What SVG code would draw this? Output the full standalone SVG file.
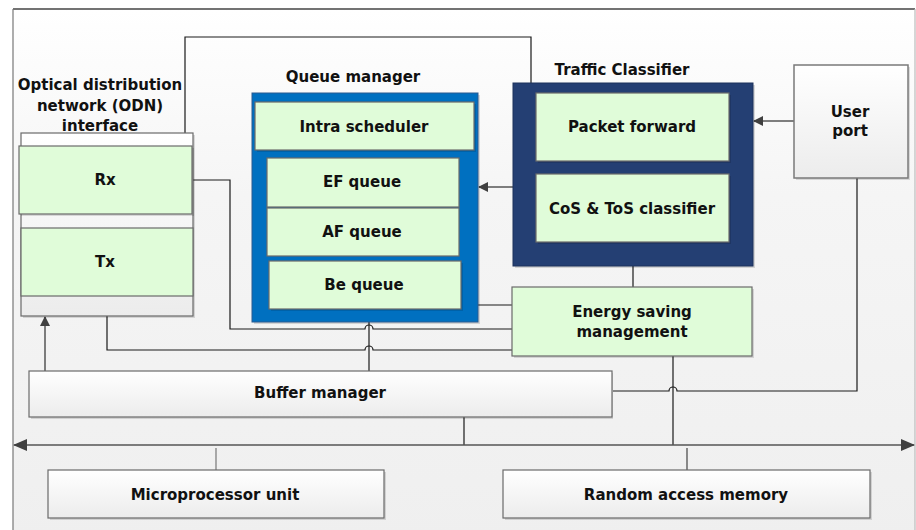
<svg xmlns="http://www.w3.org/2000/svg" width="916" height="530" viewBox="0 0 916 530">
<defs>
<linearGradient id="bg" x1="0" y1="0" x2="0" y2="1"><stop offset="0" stop-color="#ffffff"/><stop offset="0.35" stop-color="#f5f5f5"/><stop offset="1" stop-color="#efefef"/></linearGradient>
<linearGradient id="wg" x1="0" y1="0" x2="0" y2="1"><stop offset="0" stop-color="#ffffff"/><stop offset="1" stop-color="#ececec"/></linearGradient>
<marker id="ah" viewBox="0 0 10 10" refX="9" refY="5" markerWidth="10" markerHeight="10" markerUnits="userSpaceOnUse" orient="auto"><path d="M0,0 L10,5 L0,10 z" fill="#404040"/></marker>
<marker id="ahb" viewBox="0 0 14 12" refX="13" refY="6" markerWidth="14" markerHeight="12" markerUnits="userSpaceOnUse" orient="auto-start-reverse"><path d="M0,0 L14,6 L0,12 z" fill="#404040"/></marker>
</defs>
<style>
.t{font-family:"DejaVu Sans",Verdana,sans-serif;font-weight:bold;font-size:15px;fill:#111;text-anchor:middle}
.g{fill:#e0fcd9;stroke:#6a6a6a;stroke-width:1.2}
.w{fill:url(#wg);stroke:#6a6a6a;stroke-width:1.2}
.sh{fill:#000;opacity:0.13}
.c{fill:none;stroke:#1a1a1a;stroke-width:1.2}
.a{fill:none;stroke:#555;stroke-width:1.5}
</style>
<rect x="0" y="0" width="916" height="530" fill="#ffffff"/>
<rect x="13" y="9" width="902" height="530" fill="url(#bg)"/>
<line x1="13" y1="9" x2="915" y2="9" stroke="#444" stroke-width="1.5"/>
<line x1="13" y1="9" x2="13" y2="530" stroke="#777" stroke-width="1.2"/>
<line x1="915" y1="9" x2="915" y2="530" stroke="#bbb" stroke-width="1.2"/>

<g id="connectors">
<path class="c" d="M185,133 V37 H531 V83"/>
<path class="c" d="M192,180 H230 V329 H365 a4,4 0 0 1 8,0 H513"/>
<path class="c" d="M107,296 V350 H365 a4,4 0 0 1 8,0 H513"/>
<path class="c" d="M478,305 H513"/>
<path class="c" d="M369,322 V371"/>
<path class="c" d="M633,266 V287"/>
<path class="c" d="M673,356 V445"/>
<path class="c" d="M613,391 H669 a4,4 0 0 1 8,0 H857 V178"/>
<path class="c" d="M464,417 V445"/>
<path class="a" d="M513,187 H479" marker-end="url(#ah)"/>
<path class="a" d="M794,121 H754" marker-end="url(#ah)"/>
<path class="a" d="M45,371 V317" marker-end="url(#ah)"/>
<path class="a" d="M14,445 H914" stroke="#444" stroke-width="1.3" marker-start="url(#ahb)" marker-end="url(#ahb)"/>
<path d="M216,448 V470" stroke="#777" stroke-width="1.2"/>
<path d="M687,448 V470" stroke="#444" stroke-width="1.2"/>
</g>

<g id="odn">
<text class="t" x="100" y="90">Optical distribution</text>
<text class="t" x="100" y="111">network (ODN)</text>
<text class="t" x="100" y="131">interface</text>
<rect class="sh" x="23" y="135" width="172" height="183"/>
<rect x="21" y="133" width="172" height="183" fill="url(#wg)" stroke="#6a6a6a" stroke-width="1.2"/>
</g>
<g id="rx">
<rect class="sh" x="21" y="148" width="173" height="68"/>
<rect class="g" x="19" y="146" width="173" height="68"/>
<text class="t" x="105" y="185">Rx</text>
</g>
<g id="tx">
<rect class="g" x="21" y="228" width="172" height="68"/>
<text class="t" x="105" y="267">Tx</text>
</g>

<g id="queue-manager">
<text class="t" x="353" y="82">Queue manager</text>
<rect class="sh" x="254" y="95" width="226" height="229"/>
<rect x="252" y="93" width="226" height="229" fill="#0070c0" stroke="#2a5a90" stroke-width="1"/>
</g>
<g id="intra-scheduler">
<rect class="sh" x="257" y="104" width="219" height="48"/>
<rect class="g" x="255" y="102" width="219" height="48"/>
<text class="t" x="364" y="132">Intra scheduler</text>
</g>
<g id="ef-queue">
<rect class="g" x="267" y="158" width="192" height="49"/>
<text class="t" x="362" y="187">EF queue</text>
</g>
<g id="af-queue">
<rect class="g" x="267" y="208" width="192" height="48"/>
<text class="t" x="362" y="237">AF queue</text>
</g>
<g id="be-queue">
<rect class="sh" x="271" y="263" width="192" height="48"/>
<rect class="g" x="269" y="261" width="192" height="48"/>
<text class="t" x="364" y="290">Be queue</text>
</g>

<g id="traffic-classifier">
<text class="t" x="622" y="75">Traffic Classifier</text>
<rect class="sh" x="515" y="85" width="240" height="183"/>
<rect x="513" y="83" width="240" height="183" fill="#243f73" stroke="#1c325c" stroke-width="1"/>
</g>
<g id="packet-forward">
<rect class="sh" x="538" y="95" width="193" height="68"/>
<rect class="g" x="536" y="93" width="193" height="68"/>
<text class="t" x="632" y="132">Packet forward</text>
</g>
<g id="cos-tos">
<rect class="sh" x="538" y="176" width="193" height="68"/>
<rect class="g" x="536" y="174" width="193" height="68"/>
<text class="t" x="632" y="214">CoS &amp; ToS classifier</text>
</g>

<g id="user-port">
<rect class="sh" x="796" y="67" width="114" height="113"/>
<rect x="794" y="65" width="114" height="113" fill="url(#wg)" stroke="#7a7a7a" stroke-width="1.5"/>
<text class="t" x="850" y="117">User</text>
<text class="t" x="850" y="136">port</text>
</g>

<g id="energy-saving">
<rect class="sh" x="514" y="289" width="240" height="69"/>
<rect class="g" x="512" y="287" width="240" height="69"/>
<text class="t" x="632" y="317">Energy saving</text>
<text class="t" x="632" y="337">management</text>
</g>

<g id="buffer-manager">
<rect class="sh" x="31" y="373" width="582" height="46"/>
<rect class="w" x="29" y="371" width="583" height="46"/>
<text class="t" x="320" y="398">Buffer manager</text>
</g>

<g id="microprocessor">
<rect class="sh" x="50" y="472" width="336" height="48"/>
<rect class="w" x="48" y="470" width="336" height="48"/>
<text class="t" x="215" y="500">Microprocessor unit</text>
</g>

<g id="ram">
<rect class="sh" x="505" y="472" width="367" height="48"/>
<rect class="w" x="503" y="470" width="367" height="48"/>
<text class="t" x="686" y="500">Random access memory</text>
</g>
</svg>
